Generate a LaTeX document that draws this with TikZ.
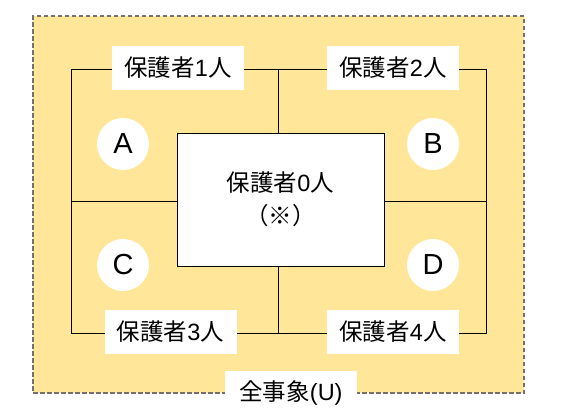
\documentclass[tikz,border=0pt]{standalone}
\usepackage{fontspec}
\setmainfont{Liberation Sans}
\newfontfamily\cjk{Noto Sans CJK JP}
\definecolor{bgyellow}{HTML}{FFE699}
\definecolor{dashgray}{HTML}{767171}
\begin{document}
\begin{tikzpicture}[x=1pt,y=-1pt,
  lab/.style={fill=white,inner sep=0pt,minimum width=132pt,minimum height=44pt,font=\fontsize{23.5}{26}\selectfont},
  circ/.style={circle,fill=white,inner sep=0pt,minimum size=52pt,font=\fontsize{29}{32}\selectfont},
  thin line/.style={line width=0.9pt,black}]
\useasboundingbox (0,0) rectangle (564,416);
\node[draw=dashgray,dash pattern=on 4.5pt off 2.5pt,line width=1.3pt,fill=bgyellow,inner sep=0pt,minimum width=491pt,minimum height=377pt] (outer) at (278.5,204.5) {};
% frame lines
\coordinate (tl) at (71,69);
\coordinate (tr) at (486,69);
\coordinate (bl) at (71,333);
\coordinate (br) at (486,333);
\node[draw=black,line width=0.9pt,fill=white,inner sep=0pt,minimum width=207pt,minimum height=133pt,align=center,font=\fontsize{23.5}{33}\selectfont] (center) at (280.5,199.5) {{\cjk 保護者}0{\cjk 人}\\{\cjk （※）}};
\coordinate (tm) at (278,69);
\coordinate (bm) at (278,333);
\coordinate (lm) at (71,201);
\coordinate (rm) at (486,201);
\draw[thin line] (tl) -- (tr) -- (br) -- (bl) -- cycle;
\draw[thin line] (tm) -- (tm |- center.north);
\draw[thin line] (bm) -- (bm |- center.south);
\draw[thin line] (lm) -- (lm -| center.west);
\draw[thin line] (rm) -- (rm -| center.east);
\node[lab] (p1) at (178,68) {{\cjk 保護者}1{\cjk 人}};
\node[lab] (p2) at (393,68) {{\cjk 保護者}2{\cjk 人}};
\node[lab] (p3) at (170.5,332) {{\cjk 保護者}3{\cjk 人}};
\node[lab] (p4) at (393,332) {{\cjk 保護者}4{\cjk 人}};
\node[circ] (A) at (123,144) {A};
\node[circ] (B) at (433,144) {B};
\node[circ] (C) at (123,265) {C};
\node[circ] (D) at (433,265) {D};
\node[fill=white,inner sep=0pt,minimum width=132pt,minimum height=45pt,font=\fontsize{23.5}{26}\selectfont] (U) at (291,393.5) {{\cjk 全事象}(U)};
\end{tikzpicture}
\end{document}
